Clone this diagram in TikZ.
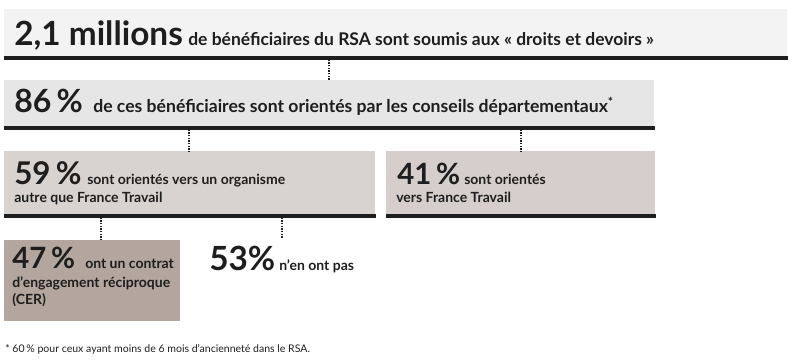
\documentclass[tikz,border=0pt]{standalone}
\usepackage{fontspec}
\setmainfont{Lato}
\usetikzlibrary{positioning}
\definecolor{boxa}{HTML}{F3F3F3}
\definecolor{boxb}{HTML}{E6E6E6}
\definecolor{boxc}{HTML}{D8D3CF}
\definecolor{boxd}{HTML}{D5CECA}
\definecolor{boxe}{HTML}{B2A69F}
\definecolor{ink}{HTML}{1E1E1E}

\begin{document}
\begin{tikzpicture}[x=0.75pt,y=-0.75pt,
  box/.style={inner sep=0pt, anchor=north west},
  bar/.style={line width=3pt, ink},
  dots/.style={line width=1pt, dash pattern=on 1pt off 1pt, ink},
  big/.style={font=\fontsize{25}{25}\selectfont\bfseries, inner sep=0pt, anchor=base west, text=ink},
  num/.style={font=\fontsize{22}{22}\selectfont\bfseries, inner sep=0pt, anchor=base west, text=ink},
  txt/.style={font=\fontsize{13.1}{14}\selectfont\bfseries, inner sep=0pt, anchor=base west, text=ink},
  sml/.style={font=\fontsize{10.5}{12}\selectfont\bfseries, inner sep=0pt, anchor=base west, text=ink}]
\useasboundingbox (0,0) rectangle (794,362);
% boxes
\node[box, fill=boxa, minimum width=587.25pt, minimum height=37.5pt] (rsa) at (4,9) {};
\node[box, fill=boxb, minimum width=487.5pt, minimum height=36.75pt] (cd) at (4,80) {};
\node[box, fill=boxc, minimum width=278.25pt, minimum height=49.5pt] (autre) at (4,151) {};
\node[box, fill=boxd, minimum width=201.75pt, minimum height=49.5pt] (ft) at (386,151) {};
\node[box, fill=boxe, minimum width=132pt, minimum height=60.75pt] (cer) at (4,240) {};
\draw[bar] ([yshift=1.5pt]rsa.south west) -- ([yshift=1.5pt]rsa.south east);
\draw[bar] ([yshift=1.5pt]cd.south west) -- ([yshift=1.5pt]cd.south east);
\draw[bar] ([yshift=1.5pt]autre.south west) -- ([yshift=1.5pt]autre.south east);
\draw[bar] ([yshift=1.5pt]ft.south west) -- ([yshift=1.5pt]ft.south east);
% texts
\node[big] (rsanum) at (14,45) {2,1 millions};
\node[txt] (rsatxt) at (188,45) {de bénéficiaires du RSA sont soumis aux « droits et devoirs »};
\node[num, font=\fontsize{24}{24}\selectfont\bfseries] (cdnum) at (14,112) {86\,\%};
\node[txt, font=\fontsize{13.2}{14}\selectfont\bfseries] (cdtxt) at (93,112) {de ces bénéficiaires sont orientés par les conseils départementaux\textsuperscript{*}};
\node[num, font=\fontsize{23.5}{24}\selectfont\bfseries] (autrenum) at (14,184) {59\,\%};
\node[sml] (autretxt) at (87,184) {sont orientés vers un organisme};
\node[sml] (autretxtb) at (14,202) {autre que France Travail};
\node[num] (ftnum) at (397,184) {41\,\%};
\node[sml] (fttxt) at (464,184) {sont orientés};
\node[sml] (fttxtb) at (396,202) {vers France Travail};
\node[num] (cernum) at (12,268) {47\,\%};
\node[sml] (certxt) at (85,268) {ont un contrat};
\node[sml] (certxtb) at (12,287) {d’engagement réciproque};
\node[sml] (certxtc) at (12,304) {(CER)};
\node[num, font=\fontsize{25}{25}\selectfont\bfseries] (pasnum) at (209,270) {53\%};
\node[sml] (pastxt) at (279,270) {n’en ont pas};
\node[font=\fontsize{7.9}{9}\selectfont, inner sep=0pt, anchor=base west, text=ink] (note) at (5,352) {* 60\,\% pour ceux ayant moins de 6 mois d’ancienneté dans le RSA.};
% connectors
\coordinate (xa) at (329,0);
\coordinate (xb) at (189,0);
\coordinate (xc) at (521,0);
\coordinate (xd) at (101,0);
\coordinate (xe) at (282,238);
\draw[dots] (rsa.south -| xa) -- (cd.north -| xa);
\draw[dots] (cd.south -| xb) -- (autre.north -| xb);
\draw[dots] (cd.south -| xc) -- (ft.north -| xc);
\draw[dots] (autre.south -| xd) -- (cer.north -| xd);
\draw[dots] (autre.south -| xe) -- (xe);
\end{tikzpicture}
\end{document}
